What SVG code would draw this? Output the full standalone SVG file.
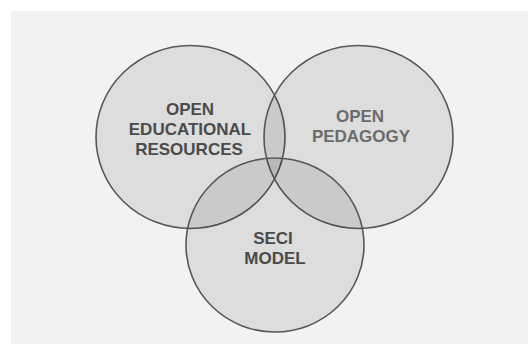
<svg xmlns="http://www.w3.org/2000/svg" width="528" height="344" viewBox="0 0 528 344">
  <style>
    .set { fill: #000000; fill-opacity: 0.085; stroke: #575757; stroke-width: 1.6; }
    .label { font-family: "Liberation Sans", Arial, sans-serif; font-weight: bold; font-size: 17px; text-anchor: middle; }
    .dark { fill: #4b4b4b; }
    .soft { fill: #6b6b6b; }
  </style>
  <!-- page and panel -->
  <rect x="0" y="0" width="528" height="344" fill="#ffffff"/>
  <rect x="11" y="11" width="517" height="333" fill="#f2f2f2"/>

  <g id="open-educational-resources">
    <ellipse class="set" cx="190.5" cy="137" rx="94.5" ry="91.5"/>
    <text class="label dark" x="190" y="115">OPEN</text>
    <text class="label dark" x="190" y="135">EDUCATIONAL</text>
    <text class="label dark" x="189" y="155">RESOURCES</text>
  </g>

  <g id="open-pedagogy">
    <ellipse class="set" cx="358.5" cy="137" rx="94.5" ry="91.5"/>
    <text class="label soft" x="360" y="122">OPEN</text>
    <text class="label soft" x="361" y="142">PEDAGOGY</text>
  </g>

  <g id="seci-model">
    <ellipse class="set" cx="275" cy="245" rx="89" ry="87"/>
    <text class="label dark" x="273" y="244">SECI</text>
    <text class="label dark" x="275" y="264">MODEL</text>
  </g>
</svg>
